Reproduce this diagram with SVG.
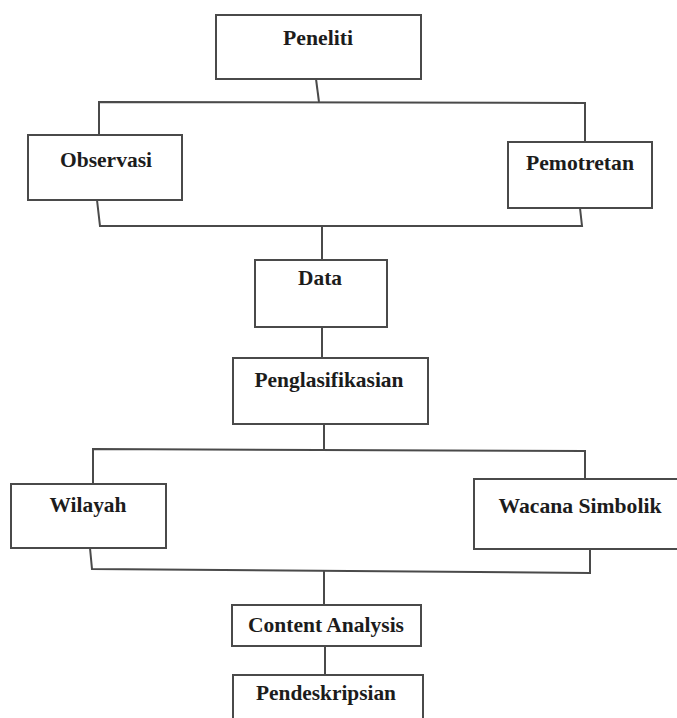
<svg xmlns="http://www.w3.org/2000/svg" width="677" height="718" viewBox="0 0 677 718">
<style>
.box{fill:#ffffff;stroke:#4a4a4a;stroke-width:2}
.lbl{font-family:"Liberation Serif","Times New Roman",serif;font-weight:bold;font-size:22px;fill:#1c1c1c;text-anchor:middle}
.conn{fill:none;stroke:#4a4a4a;stroke-width:2}
</style>
<rect width="677" height="718" fill="#ffffff"/>
<g id="connectors">
<polyline class="conn" points="316,79 319,102"/>
<polyline class="conn" points="99,136 99,102 585,103 585,142"/>
<polyline class="conn" points="97,200 100,226 582,226 580,208"/>
<polyline class="conn" points="322,226 322,260"/>
<polyline class="conn" points="322,327 322,358"/>
<polyline class="conn" points="324,424 324,450"/>
<polyline class="conn" points="93,484 93,449 585,451 585,479"/>
<polyline class="conn" points="90,548 92,569 590,573 590,549"/>
<polyline class="conn" points="324,571 324,605"/>
<polyline class="conn" points="325,646 325,675"/>
</g>
<g id="node-peneliti"><rect class="box" x="216" y="15" width="205" height="64"/><text class="lbl" x="318" y="45" textLength="70" lengthAdjust="spacingAndGlyphs">Peneliti</text></g>
<g id="node-observasi"><rect class="box" x="28" y="135" width="154" height="65"/><text class="lbl" x="106" y="167" textLength="92" lengthAdjust="spacingAndGlyphs">Observasi</text></g>
<g id="node-pemotretan"><rect class="box" x="508" y="142" width="144" height="66"/><text class="lbl" x="580" y="170" textLength="108" lengthAdjust="spacingAndGlyphs">Pemotretan</text></g>
<g id="node-data"><rect class="box" x="255" y="260" width="132" height="67"/><text class="lbl" x="320" y="285" textLength="44" lengthAdjust="spacingAndGlyphs">Data</text></g>
<g id="node-penglasifikasian"><rect class="box" x="233" y="358" width="195" height="66"/><text class="lbl" x="329" y="387" textLength="149" lengthAdjust="spacingAndGlyphs">Penglasifikasian</text></g>
<g id="node-wilayah"><rect class="box" x="11" y="484" width="155" height="64"/><text class="lbl" x="88" y="512" textLength="77" lengthAdjust="spacingAndGlyphs">Wilayah</text></g>
<g id="node-wacana-simbolik"><rect class="box" x="474" y="479" width="210" height="70"/><text class="lbl" x="580" y="513" textLength="163" lengthAdjust="spacingAndGlyphs">Wacana Simbolik</text></g>
<g id="node-content-analysis"><rect class="box" x="232" y="605" width="189" height="41"/><text class="lbl" x="326" y="632" textLength="156" lengthAdjust="spacingAndGlyphs">Content Analysis</text></g>
<g id="node-pendeskripsian"><rect class="box" x="233" y="675" width="190" height="60"/><text class="lbl" x="326" y="700" textLength="140" lengthAdjust="spacingAndGlyphs">Pendeskripsian</text></g>
</svg>
